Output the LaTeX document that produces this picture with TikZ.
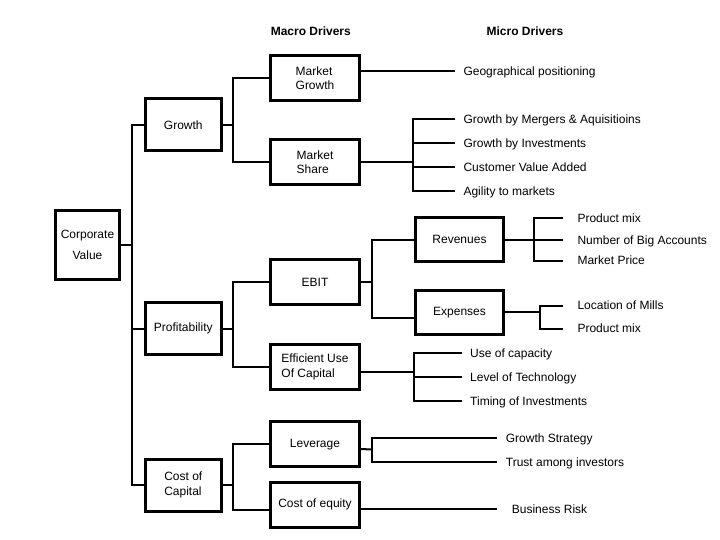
\documentclass[tikz,border=0pt]{standalone}
\usepackage{fontspec}
\setmainfont{Liberation Sans}
\begin{document}
\begin{tikzpicture}[x=1pt,y=-1pt,
  box/.style={draw,line width=3pt,inner sep=0pt,minimum width=89pt,minimum height=45pt,align=left,font=\fontsize{12}{14.5}\selectfont},
  leaf/.style={anchor=west,inner sep=0pt,text height=8.6pt,text depth=0pt,font=\fontsize{12}{14}\selectfont},
  head/.style={font=\bfseries\fontsize{12}{14}\selectfont},
  link/.style={line width=2pt}]
\useasboundingbox (0,0) rectangle (720,540);
%headings
\node[head] (macro) at (310.8,31) {Macro Drivers};
\node[head] (micro) at (525,31) {Micro Drivers};
%boxes
\node[box,minimum width=64pt,minimum height=69pt,align=center,font=\fontsize{12}{21}\selectfont] (corp) at (87.5,245) {Corporate\\Value};
\node[box,minimum width=76pt,minimum height=52pt,align=center] (growth) at (183.3,125) {Growth};
\node[box,minimum width=76pt,minimum height=52pt,align=center] (profit) at (183.3,328.5) {Profitability};
\node[box,minimum width=76pt,minimum height=52pt] (coc) at (183.3,485) {Cost of\\Capital};
\node[box] (mgrowth) at (315,78.3) {Market\\Growth};
\node[box] (mshare) at (315,162) {Market\\Share};
\node[box,align=center] (ebit) at (315,282) {EBIT};
\node[box] (effuse) at (315,366.7) {Efficient Use\\Of Capital};
\node[box,align=center] (lever) at (315,444.2) {Leverage};
\node[box,align=center] (coeq) at (315,504.5) {Cost of equity};
\node[box,minimum width=88pt,minimum height=44pt,align=center] (rev) at (459.5,239.7) {Revenues};
\node[box,minimum width=88pt,minimum height=44pt,align=center] (exp) at (459.5,312.2) {Expenses};
%micro drivers
\node[leaf] (geo) at (463.3,71) {Geographical positioning};
\node[leaf] (merg) at (463.3,119) {Growth by Mergers \& Aquisitioins};
\node[leaf] (invest) at (463.3,143) {Growth by Investments};
\node[leaf] (cva) at (463.3,167) {Customer Value Added};
\node[leaf] (agile) at (463.3,191) {Agility to markets};
\node[leaf] (pmixa) at (577.3,218.5) {Product mix};
\node[leaf] (accts) at (577.3,239.7) {Number of Big Accounts};
\node[leaf] (price) at (577.3,260.5) {Market Price};
\node[leaf] (mills) at (577.3,305.5) {Location of Mills};
\node[leaf] (pmixb) at (577.3,328.5) {Product mix};
\node[leaf] (capac) at (470,353) {Use of capacity};
\node[leaf] (techn) at (470,376.7) {Level of Technology};
\node[leaf] (timing) at (470,401) {Timing of Investments};
\node[leaf] (gstrat) at (505.7,437.7) {Growth Strategy};
\node[leaf] (trust) at (505.7,461.7) {Trust among investors};
\node[leaf] (brisk) at (511.7,509.3) {Business Risk};
%junctions
\coordinate (cvj) at (132,245);
\coordinate (gj) at (233,125);
\coordinate (pj) at (233,328.5);
\coordinate (cj) at (233,485);
\coordinate (msj) at (413.3,162);
\coordinate (ebj) at (371.7,282);
\coordinate (rvj) at (534,239.7);
\coordinate (exj) at (540,312.2);
\coordinate (euj) at (414,371.7);
\coordinate (lvj) at (371.7,449.3);
%links
\draw[link] (corp) -- (cvj);
\draw[link] (growth.west) -| (cvj) |- (coc.west);
\draw[link] (cvj |- profit.west) -- (profit.west);
\draw[link] (growth) -- (gj);
\draw[link] (mgrowth.west) -| (gj) |- (mshare.west);
\draw[link] (profit) -- (pj);
\draw[link] (ebit.west) -| (pj) |- (effuse.west);
\draw[link] (coc) -- (cj);
\draw[link] (lever.west) -| (cj) |- ([yshift=-5.5pt]coeq.west);
\draw[link] (mgrowth.east |- geo) -- ([xshift=-8pt]geo.west);
\draw[link] (mshare) -- (msj);
\draw[link] ([xshift=-8pt]merg.west) -| (msj) |- ([xshift=-8pt]agile.west);
\draw[link] (msj |- invest) -- ([xshift=-8pt]invest.west);
\draw[link] (msj |- cva) -- ([xshift=-8pt]cva.west);
\draw[link] (ebit) -- (ebj);
\draw[link] (rev.west) -| (ebj) |- ([yshift=-5.5pt]exp.west);
\draw[link] ([xshift=-14pt]pmixa.west) -| (rvj) |- ([xshift=-14pt]price.west);
\draw[link] (rev) -- ([xshift=-14pt]accts.west);
\draw[link] (exp) -- (exj);
\draw[link] ([xshift=-14pt]mills.west) -| (exj) |- ([xshift=-14pt]pmixb.west);
\draw[link] ([yshift=-5pt]effuse.east) -- (euj);
\draw[link] ([xshift=-8.3pt]capac.west) -| (euj) |- ([xshift=-8.3pt]timing.west);
\draw[link] (euj |- techn) -- ([xshift=-8.3pt]techn.west);
\draw[link] ([yshift=-5pt]lever.east) -- (lvj);
\draw[link] ([xshift=-8.4pt]gstrat.west) -| (lvj) |- ([xshift=-8.4pt]trust.west);
\draw[link] ([yshift=-4.8pt]coeq.east) -- ([xshift=-14.4pt]brisk.west);
\end{tikzpicture}
\end{document}
